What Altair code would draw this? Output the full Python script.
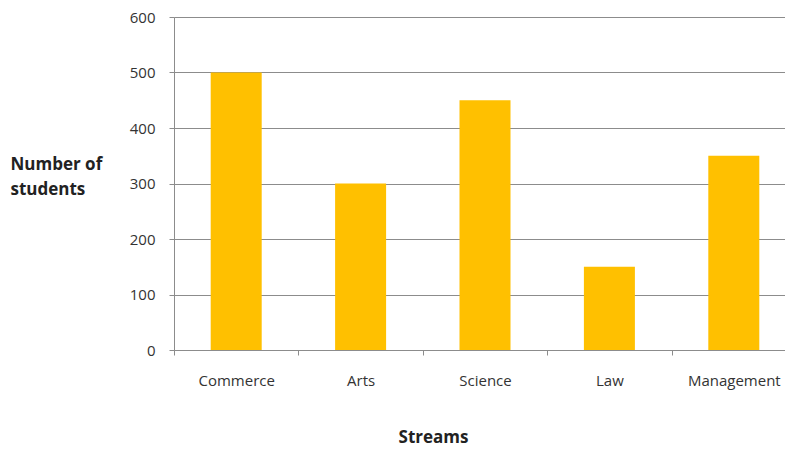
import altair as alt
import pandas as pd

streams = ["Commerce", "Arts", "Science", "Law", "Management"]
students = [500, 300, 450, 150, 350]

df = pd.DataFrame({"Stream": streams, "Students": students})

FONT = "Open Sans"

chart = alt.Chart(df).mark_bar(
    color="#FFC000", width=alt.RelativeBandSize(0.41)
).encode(
    x=alt.X(
        "Stream:N",
        sort=streams,
        scale=alt.Scale(paddingInner=0, paddingOuter=0, range=[0, 622]),
        axis=alt.Axis(
            title="Streams",
            labelAngle=0,
            labelFontSize=15,
            labelFont=FONT,
            labelColor="#333333",
            labelPadding=18,
            tickBand="extent",
            tickSize=5,
            tickColor="#8c8c8c",
            domainColor="#8c8c8c",
            grid=False,
            titleFont=FONT,
            titleFontSize=17,
            titleFontWeight="bold",
            titleColor="#222222",
            titleX=259,
            titleY=87,
            titleAlign="center",
            titleBaseline="middle",
            titleAnchor="start",
        ),
    ),
    y=alt.Y(
        "Students:Q",
        scale=alt.Scale(domain=[0, 600], nice=False),
        axis=alt.Axis(
            title=["Number of", "students"],
            values=[0, 100, 200, 300, 400, 500, 600],
            labelFontSize=15,
            labelFont=FONT,
            labelColor="#333333",
            labelPadding=14,
            tickSize=5,
            tickColor="#8c8c8c",
            domainColor="#8c8c8c",
            gridColor="#8c8c8c",
            gridWidth=1,
            titleAngle=0,
            titleFont=FONT,
            titleFontSize=17,
            titleFontWeight="bold",
            titleColor="#222222",
            titleX=-164,
            titleY=139,
            titleAlign="left",
            titleBaseline="top",
            titleLineHeight=25,
            titleAnchor="start",
        ),
    ),
).properties(
    width=611,
    height=333,
    autosize=alt.AutoSizeParams(type="none"),
    padding={"left": 166, "top": 9, "right": 0, "bottom": 100},
).configure_view(stroke=None).configure(background="white")

chart.save("out.html", embed_options={"renderer": "svg", "actions": False})
